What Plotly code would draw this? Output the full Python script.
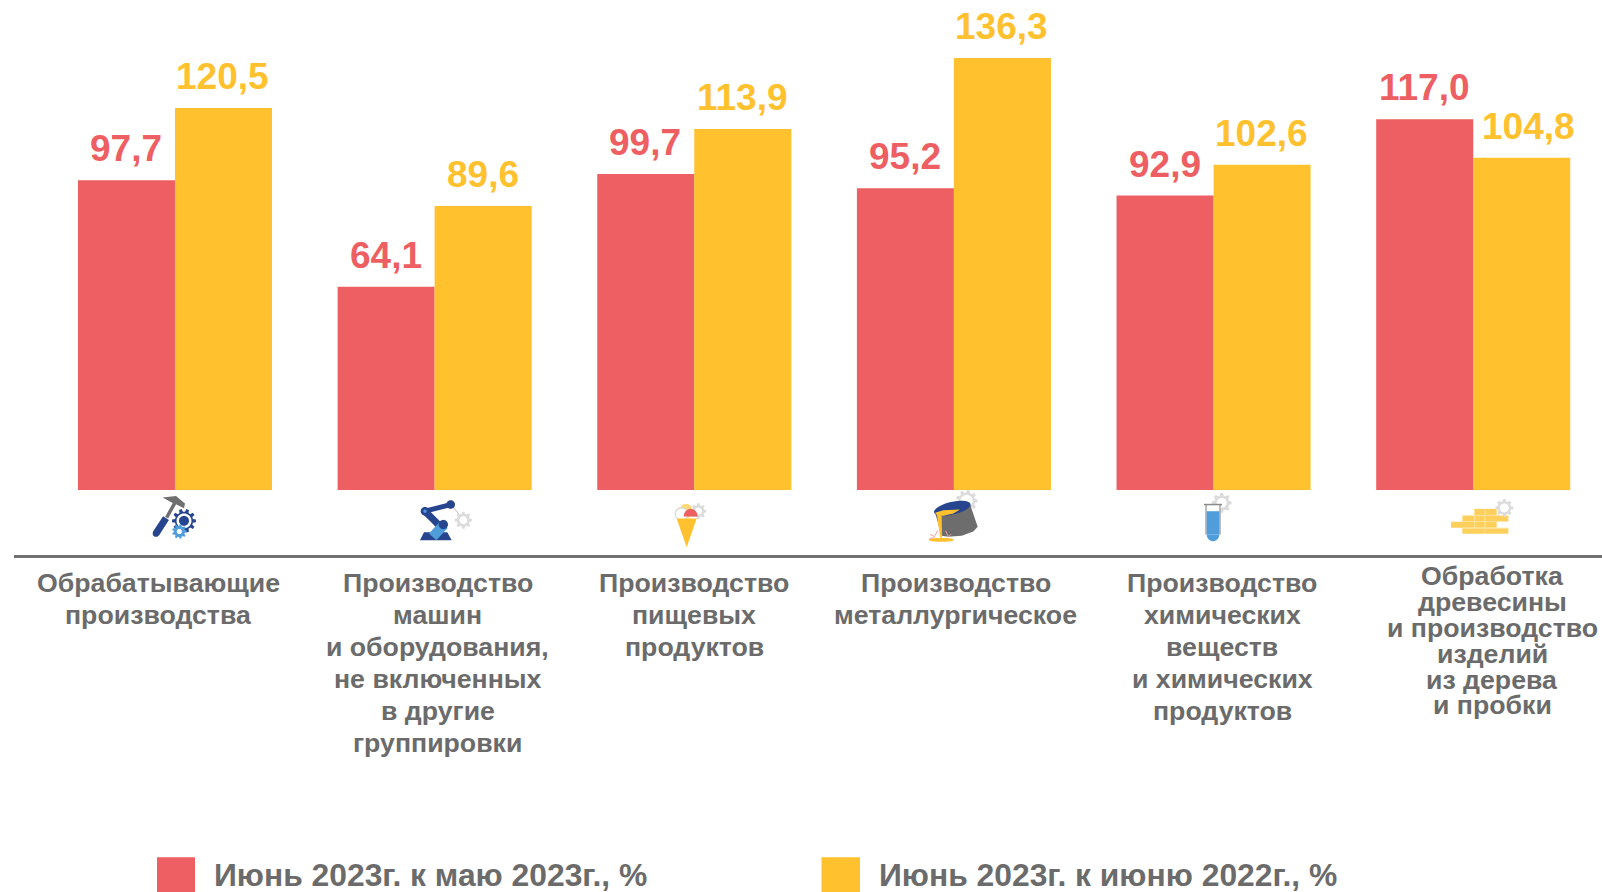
import math
import plotly.graph_objects as go

# ---- data ----
categories = ["Обрабатывающие", "Машины", "Пищевые", "Металлургическое", "Химические", "Древесина"]
may_values = [97.7, 64.1, 99.7, 95.2, 92.9, 117.0]
yoy_values = [120.5, 89.6, 113.9, 136.3, 102.6, 104.8]
series_names = ["Июнь 2023г. к маю 2023г., %", "Июнь 2023г. к июню 2022г., %"]
label_lines = [
    ["Обрабатывающие", "производства"],
    ["Производство", "машин", "и оборудования,", "не включенных", "в другие", "группировки"],
    ["Производство", "пищевых", "продуктов"],
    ["Производство", "металлургическое"],
    ["Производство", "химических", "веществ", "и химических", "продуктов"],
    ["Обработка", "древесины", "и производство", "изделий", "из дерева", "и пробки"],
]

RED = "#ED5F62"
YEL = "#FFC12D"
GREY = "#6B6B6B"
NAVY = "#27458F"
BLUE = "#4F9EDB"
GEAR = "#DCDCDC"
FONT = "Liberation Sans"
W, H = 1602, 892
L, AXIS_Y = 14, 555.5


def px(x):
    return (x - L) / (W - L)


def py(y):
    return 1 - y / AXIS_Y


def fmt(v):
    return f"{v:.1f}".replace(".", ",")


fig = go.Figure()
fig.add_bar(x=categories, y=may_values, name=series_names[0], marker=dict(color=RED, line=dict(width=0)))
fig.add_bar(x=categories, y=yoy_values, name=series_names[1], marker=dict(color=YEL, line=dict(width=0)))

annotations = []
# value labels, anchored to the data
for i, c in enumerate(categories):
    for vals, col, dx in ((may_values, RED, -48.5), (yoy_values, YEL, 48.5)):
        extra = 7 if (i == 5 and vals is yoy_values) else 0
        annotations.append(dict(
            x=c, y=vals[i], xref="x", yref="y", text=f"<b>{fmt(vals[i])}</b>", showarrow=False,
            xshift=dx + extra - 0.5, yshift=9, yanchor="bottom", xanchor="center",
            font=dict(family=FONT, size=37, color=col)))


def text(xp, yp, s, size, anchor="center"):
    annotations.append(dict(
        x=px(xp), y=py(yp), xref="paper", yref="paper", text=f"<b>{s}</b>", showarrow=False,
        xanchor=anchor, yanchor="middle", font=dict(family=FONT, size=size, color=GREY)))


# category labels (one annotation per line: the line pitch differs between groups)
label_cx = [158, 437.5, 694, 955.5, 1222, 1492]
label_y0 = [583.5, 583.5, 583.5, 583.5, 583.5, 577]
label_dy = [32, 32, 32, 32, 32, 25.8]
for lines, cx, y0, dy in zip(label_lines, label_cx, label_y0, label_dy):
    for k, line in enumerate(lines):
        text(cx, y0 + k * dy, line, 26.7)

# legend drawn to the reference's size
shapes = []


def rect(x0, y0, x1, y1, col):
    shapes.append(dict(type="rect", xref="paper", yref="paper", x0=px(x0), x1=px(x1), y0=py(y0), y1=py(y1),
                       fillcolor=col, line=dict(width=0), layer="above"))


rect(157, 858, 195, 893, RED)
rect(821.5, 858, 860, 893, YEL)
text(212, 876, series_names[0], 31.8, "left")
text(877, 876, series_names[1], 31.8, "left")


# ---- small icons, in page pixels ----
def poly(pts, col, ox, oy, k=1 / 3, close=True):
    d = "M" + " L".join(f"{px(ox + x * k):.5f},{py(oy + y * k):.5f}" for x, y in pts)
    if close:
        d += " Z"
    shapes.append(dict(type="path", xref="paper", yref="paper", path=d, fillcolor=col if close else None,
                       line=dict(width=0), layer="above"))


def stroke(pts, col, width, ox, oy, k=1 / 3):
    d = "M" + " L".join(f"{px(ox + x * k):.5f},{py(oy + y * k):.5f}" for x, y in pts)
    shapes.append(dict(type="path", xref="paper", yref="paper", path=d,
                       line=dict(color=col, width=width), layer="above"))


def ell(cx, cy, rx, ry, col, ox, oy, rot=0.0, k=1 / 3, a0=0.0, a1=360.0):
    pts = []
    n = 36
    for j in range(n + 1):
        t = math.radians(a0 + (a1 - a0) * j / n)
        x, y = rx * math.cos(t), ry * math.sin(t)
        c, s = math.cos(math.radians(rot)), math.sin(math.radians(rot))
        pts.append((cx + x * c - y * s, cy + x * s + y * c))
    poly(pts, col, ox, oy, k)


def gear(cx, cy, r, col, ox, oy, hole=0.5, teeth=8):
    pts = []
    step = 360 / teeth
    for j in range(teeth):
        for f, rad in ((-0.32, 0.76), (-0.18, 1.0), (0.18, 1.0), (0.32, 0.76)):
            t = math.radians((j + f) * step)
            pts.append((cx + r * rad * math.cos(t), cy + r * rad * math.sin(t)))
    poly(pts, col, ox, oy)
    if hole:
        ell(cx, cy, r * hole, r * hole, "white", ox, oy)


# hammer and gears
o = (140, 488)
stroke([(80, 90), (105, 45)], "#6F6F6F", 3.5, *o)
poly([(68, 30), (108, 25), (135, 48), (132, 62), (108, 50), (95, 45)], "#6F6F6F", *o)
stroke([(48, 138), (78, 92)], NAVY, 7, *o)
ell(48, 138, 10, 10, NAVY, *o)
gear(132, 100, 36, NAVY, *o, hole=0.62, teeth=10)
ell(132, 100, 15, 15, NAVY, *o)
gear(118, 132, 22, BLUE, *o, hole=0.35, teeth=9)

# robot arm
o = (410, 490)
gear(160, 92, 26, GEAR, *o, hole=0.45)
stroke([(128, 52), (146, 72)], "#B9B9B9", 1, *o)
poly([(30, 152), (42, 128), (112, 128), (125, 152)], NAVY, *o)
stroke([(45, 65), (122, 45)], NAVY, 5, *o)
stroke([(45, 65), (92, 112)], NAVY, 7, *o)
stroke([(102, 105), (68, 142)], BLUE, 10, *o)
ell(45, 65, 13, 13, NAVY, *o)
ell(122, 45, 13, 13, NAVY, *o)
ell(100, 105, 14, 14, NAVY, *o)
ell(45, 65, 5, 5, BLUE, *o)

# ice cream
o = (660, 495)
gear(115, 50, 24, GEAR, *o, hole=0.45)
ell(78, 50, 20, 22, "#FFD978", *o)
ell(64, 58, 20, 20, "#D9D9D9", *o)
ell(65, 59, 17, 17, "white", *o)
ell(92, 66, 21, 23, RED, *o, a0=180, a1=360)
poly([(50, 72), (110, 72), (80, 158)], YEL, *o)

# ladle
o = (915, 488)
gear(155, 40, 33, GEAR, *o, hole=0.55, teeth=9)
poly([(60, 75), (165, 50), (188, 118), (175, 132), (140, 145), (100, 148), (80, 145)], "#6D6D6D", *o)
ell(112, 62, 56, 19, NAVY, *o, rot=-13)
poly([(60, 76), (85, 68), (135, 66), (115, 78), (85, 85), (68, 85)], YEL, *o)
poly([(66, 82), (80, 84), (81, 150), (75, 150)], YEL, *o)
ell(79, 157, 38, 6, YEL, *o)
for seg in ([(60, 145), (68, 128)], [(45, 140), (60, 148)], [(92, 130), (100, 148)], [(108, 140), (100, 148)],
            [(42, 155), (56, 150)]):
    stroke(seg, "#F2A0A0", 1, *o)

# test tube
o = (1190, 490)
gear(95, 40, 30, GEAR, *o, hole=0.5)
poly([(48, 45), (90, 45), (90, 135), (48, 135)], "white", *o)
stroke([(48, 45), (48, 135)], "#A8A8A8", 1.5, *o)
stroke([(90, 45), (90, 135)], "#A8A8A8", 1.5, *o)
stroke([(42, 45), (96, 45)], "#8A8A8A", 1.5, *o)
poly([(50, 65), (88, 65), (88, 135), (50, 135)], BLUE, *o)
ell(69, 135, 19, 20, BLUE, *o, a0=0, a1=180)

# bricks
o = (1445, 490)
BR = "#FFCF5C"
for x0, x1, y0, y1 in ((88, 155, 58, 77), (52, 190, 78, 96), (18, 155, 97, 115), (52, 190, 116, 133)):
    poly([(x0, y0), (x1, y0), (x1, y1), (x0, y1)], BR, *o)
for seg in ([(120, 58), (120, 96)], [(88, 78), (88, 115)], [(120, 97), (120, 133)], [(52, 116), (190, 116)]):
    stroke(seg, "#FFE39A", 1, *o)
gear(178, 55, 27, GEAR, *o, hole=0.5)

fig.update_layout(
    width=W, height=H, barmode="group", bargap=0.2527, bargroupgap=0,
    margin=dict(l=L, r=0, t=0, b=H - AXIS_Y, pad=0),
    paper_bgcolor="white", plot_bgcolor="white", showlegend=False,
    annotations=annotations, shapes=shapes,
    xaxis=dict(type="category", range=[-0.62, 5.496], showticklabels=False, ticks="", showgrid=False,
               zeroline=False, showline=True, linecolor="#707070", linewidth=2.5),
    yaxis=dict(range=[-20.49, 154.6], visible=False, showgrid=False, zeroline=False),
)

fig.write_html("out.html", config=dict(displayModeBar=False),
               post_script="document.body.style.margin='0';document.body.style.overflow='hidden';")
